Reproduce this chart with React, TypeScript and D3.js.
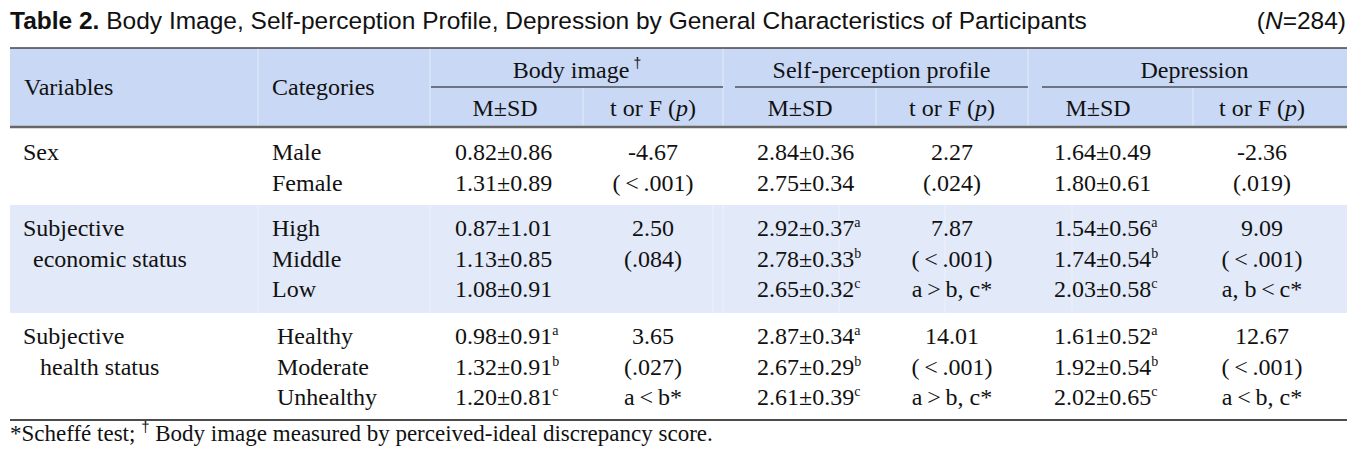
import React from "react";
import * as d3 from "d3";

// ---------- data ----------
const variableLabels: string[][] = [["Sex"], ["Subjective", "economic status"], ["Subjective", "health status"]];
const categories: string[][] = [["Male", "Female"], ["High", "Middle", "Low"], ["Healthy", "Moderate", "Unhealthy"]];

const bodyMean = [0.82, 1.31, 0.87, 1.13, 1.08, 0.98, 1.32, 1.2];
const bodySD = [0.86, 0.89, 1.01, 0.85, 0.91, 0.91, 0.91, 0.81];
const bodySup = ["", "", "", "", "", "a", "b", "c"];

const selfMean = [2.84, 2.75, 2.92, 2.78, 2.65, 2.87, 2.67, 2.61];
const selfSD = [0.36, 0.34, 0.37, 0.33, 0.32, 0.34, 0.29, 0.39];
const selfSup = ["", "", "a", "b", "c", "a", "b", "c"];

const depMean = [1.64, 1.8, 1.54, 1.74, 2.03, 1.61, 1.92, 2.02];
const depSD = [0.49, 0.61, 0.56, 0.54, 0.58, 0.52, 0.54, 0.65];
const depSup = ["", "", "a", "b", "c", "a", "b", "c"];

const LT = "\u2009<\u2009";
const GT = "\u2009>\u2009";
const bodyStat: string[][] = [["-4.67", `(${LT}.001)`], ["2.50", "(.084)"], ["3.65", "(.027)", `a${LT}b*`]];
const selfStat: string[][] = [["2.27", "(.024)"], ["7.87", `(${LT}.001)`, `a${GT}b, c*`], ["14.01", `(${LT}.001)`, `a${GT}b, c*`]];
const depStat: string[][] = [["-2.36", "(.019)"], ["9.09", `(${LT}.001)`, `a, b${LT}c*`], ["12.67", `(${LT}.001)`, `a${LT}b, c*`]];

const groupHeads = ["Body image", "Self-perception profile", "Depression"];
const titleBold = "Table 2.";
const titleRest = " Body Image, Self-perception Profile, Depression by General Characteristics of Participants";
const footnote = "*Scheff\u00e9 test; ";
const footnote2 = " Body image measured by perceived-ideal discrepancy score.";

// ---------- layout ----------
const W = 1366;
const H = 460;
const SERIF = "'Liberation Serif', 'Times New Roman', serif";
const SANS = "'Liberation Sans', Arial, sans-serif";
const FS = 24;
const tableL = 10;
const tableR = 1347;
const headTop = 48;
const headBot = 127;
const groupBaselines = [160, 236, 344];
const lineStep = 30.7;
const bands = [
  { y0: 128, y1: 205, fill: "#ffffff" },
  { y0: 205, y1: 313, fill: "#e2e9f8" },
  { y0: 313, y1: 420, fill: "#ffffff" },
];
const bottomLine = 420;

const fmt = d3.format(".2f");

const colSets = [
  { mean: bodyMean, sd: bodySD, sup: bodySup, stat: bodyStat, mx: 455, mc: 505, tx: 653, g0: 431, g1: 723, sep: 583 },
  { mean: selfMean, sd: selfSD, sup: selfSup, stat: selfStat, mx: 757, mc: 800, tx: 952, g0: 735, g1: 1028, sep: 876 },
  { mean: depMean, sd: depSD, sup: depSup, stat: depStat, mx: 1054, mc: 1098, tx: 1262, g0: 1042, g1: 1347, sep: 1193 },
];

export default function App() {
  const rowIdx: number[][] = [];
  let k = 0;
  categories.forEach((cats) => {
    rowIdx.push(cats.map(() => k++));
  });
  const yLine = (g: number, i: number) => groupBaselines[g] + i * lineStep;

  return (
    <svg width={W} height={H} style={{ position: "absolute", left: 0, top: 0, background: "#fff" }}>
      <rect x={0} y={0} width={W} height={H} fill="#fff" />
      {/* title */}
      <text x={10} y={29} fontFamily={SANS} fontSize={24.5} fill="#111">
        <tspan fontWeight="bold">{titleBold}</tspan>
        <tspan>{titleRest}</tspan>
      </text>
      <text x={1346} y={29} fontFamily={SANS} fontSize={24.5} fill="#111" textAnchor="end">
        (<tspan fontStyle="italic">N</tspan>=284)
      </text>

      {/* header background */}
      <rect x={tableL} y={headTop} width={tableR - tableL} height={headBot - headTop} fill="#c9d8f5" />
      {/* body bands */}
      {bands.map((b, i) => (
        <rect key={i} x={tableL} y={b.y0} width={tableR - tableL} height={b.y1 - b.y0} fill={b.fill} />
      ))}
      {/* faint separators */}
      {[258, 430, 723, 1028].map((x) => (
        <line key={"h" + x} x1={x} x2={x} y1={headTop} y2={headBot} stroke="#e4ebfb" strokeWidth={1} />
      ))}
      {colSets.map((c) => (
        <line key={"s" + c.sep} x1={c.sep} x2={c.sep} y1={88} y2={headBot} stroke="#e4ebfb" strokeWidth={1} />
      ))}
      {[258, 430, 713, 723, 839, 945, 1072].map((x) => (
        <line key={"b" + x} x1={x} x2={x} y1={bands[1].y0} y2={bands[1].y1} stroke="#eef2fb" strokeWidth={1} />
      ))}

      {/* rules */}
      <line x1={tableL} x2={tableR} y1={headTop} y2={headTop} stroke="#444" strokeWidth={1.5} />
      <line x1={tableL} x2={tableR} y1={headBot} y2={headBot} stroke="#666" strokeWidth={2.5} />
      <line x1={tableL} x2={tableR} y1={bottomLine} y2={bottomLine} stroke="#111" strokeWidth={1.5} />

      {/* header text */}
      <text x={24} y={95} fontFamily={SERIF} fontSize={FS} fill="#111">Variables</text>
      <text x={272} y={95} fontFamily={SERIF} fontSize={FS} fill="#111">Categories</text>
      {colSets.map((c, i) => (
        <g key={"gh" + i}>
          <text x={(c.g0 + c.g1) / 2} y={78} fontFamily={SERIF} fontSize={FS} fill="#111" textAnchor="middle">
            {groupHeads[i]}
            {i === 0 && (
              <tspan fontFamily={SANS} fontSize={14} dy={-10} dx={4}>
                {"\u2020"}
              </tspan>
            )}
          </text>
          <line x1={c.g0} x2={c.g1} y1={87} y2={87} stroke="#111" strokeWidth={1.2} />
          <text x={c.mc} y={116} fontFamily={SERIF} fontSize={FS} fill="#111" textAnchor="middle">
            M±SD
          </text>
          <text x={c.tx} y={116} fontFamily={SERIF} fontSize={FS} fill="#111" textAnchor="middle">
            t or F (<tspan fontStyle="italic">p</tspan>)
          </text>
        </g>
      ))}

      {/* body */}
      {variableLabels.map((lines, g) => (
        <g key={"v" + g}>
          {lines.map((l, i) => (
            <text key={i} x={i === 0 ? 23 : g === 1 ? 33 : 40} y={yLine(g, i)} fontFamily={SERIF} fontSize={FS} fill="#111">
              {l}
            </text>
          ))}
          {categories[g].map((c, i) => (
            <text key={"c" + i} x={g === 2 ? 277 : 272} y={yLine(g, i)} fontFamily={SERIF} fontSize={FS} fill="#111">
              {c}
            </text>
          ))}
          {colSets.map((cs, ci) => (
            <g key={"cs" + ci}>
              {rowIdx[g].map((r, i) => (
                <text key={"m" + i} x={cs.mx} y={yLine(g, i)} fontFamily={SERIF} fontSize={FS} fill="#111">
                  {fmt(cs.mean[r])}±{fmt(cs.sd[r])}
                  {cs.sup[r] && (
                    <tspan fontSize={14} dy={-9}>
                      {cs.sup[r]}
                    </tspan>
                  )}
                </text>
              ))}
              {cs.stat[g].map((s, i) => (
                <text key={"t" + i} x={cs.tx} y={yLine(g, i)} fontFamily={SERIF} fontSize={FS} fill="#111" textAnchor="middle">
                  {s}
                </text>
              ))}
            </g>
          ))}
        </g>
      ))}

      {/* footnote */}
      <text x={10} y={441} fontFamily={SERIF} fontSize={23} fill="#111">
        {footnote}
        <tspan fontFamily={SANS} fontSize={15} dy={-9}>{"\u2020"}</tspan>
        <tspan dy={9}>{footnote2}</tspan>
      </text>
    </svg>
  );
}
